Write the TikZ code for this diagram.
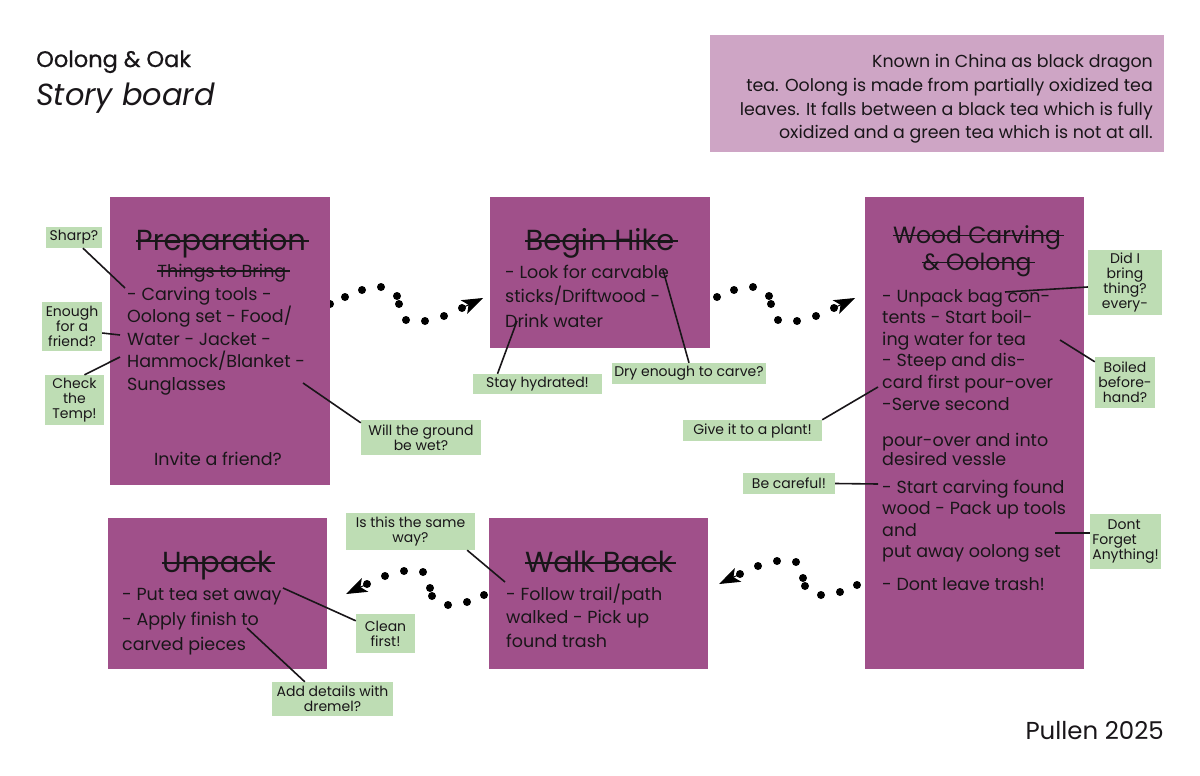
\documentclass[tikz,border=0pt]{standalone}
\usepackage{fontspec}
\setmainfont{Poppins}
\newfontfamily\medfont{Poppins}[FakeBold=0.7]
\usetikzlibrary{arrows.meta,calc}
\definecolor{boxpurple}{RGB}{160,80,138}
\definecolor{infopink}{RGB}{206,165,197}
\definecolor{notegreen}{RGB}{190,221,180}
\definecolor{ink}{RGB}{25,22,25}
\newcommand\bodyfont{\fontsize{17.5}{22.5}\selectfont}
\newcommand\titlefont{\fontsize{29}{32}\selectfont}
\newcommand\notefont{\fontsize{14}{15}\selectfont}
\tikzset{
  board/.style={fill=boxpurple, draw=none, anchor=north west, inner sep=0pt},
  note/.style={fill=notegreen, draw=none, inner sep=0pt, align=center, font=\notefont, text=ink},
  bodytxt/.style={anchor=base west, inner sep=0pt, align=left, font=\bodyfont, text=ink},
  ttl/.style={anchor=base, inner sep=0pt, font=\titlefont, text=ink},
  conn/.style={draw=ink, line width=1.6pt},
  strike/.style={draw=ink, line width=1.3pt},
  wavy/.pic={
    \foreach \px/\py in {0/0,15/-7,32/-14,51/-17,67/-8,69/0,76/16,95/17,114/12,132/4}
      \fill[black] (\px,\py) circle (4pt);
    \draw[black, line width=1pt, -{Stealth[length=21pt,width=15pt,inset=5pt]}] (134,3) -- (153,-6);
  }
}
\begin{document}
\begin{tikzpicture}[x=1pt,y=-1pt]
\useasboundingbox (0,0) rectangle (1200,776);
\fill[white] (0,0) rectangle (1200,776);

% headings
\node[anchor=base west, inner sep=0pt, font=\medfont\fontsize{22.5}{26}\selectfont, text=ink] (ttlA) at (36,67) {Oolong \& Oak};
\node[anchor=base west, inner sep=0pt, font=\fontsize{30.5}{33}\itshape, text=ink] (ttlB) at (36,106) {Story board};
\node[anchor=base east, inner sep=0pt, font=\fontsize{24.5}{27}\selectfont, text=ink] (sig) at (1164,739) {Pullen 2025};

% info box
\node[fill=infopink, anchor=north west, inner sep=0pt, minimum width=454pt, minimum height=117pt] (info) at (710,35) {};
\node[anchor=base east, inner sep=0pt, align=right, font=\fontsize{17.4}{23.5}\selectfont, text=ink] (infotxt) at (1153,138.5)
  {Known in China as black dragon\\tea. Oolong is made from partially oxidized tea\\leaves. It falls between a black tea which is fully\\oxidized and a green tea which is not at all.};

% dotted arrows (drawn first, boxes cover their starts)
\pic at (330,304) {wavy};
\pic at (702,304) {wavy};
\pic[rotate=180] at (872,578) {wavy};
\pic[rotate=180] at (499,588) {wavy};

% boards
\node[board, minimum width=220pt, minimum height=288pt] (prep) at (110,197) {};
\node[board, minimum width=220pt, minimum height=151pt] (hike) at (490,197) {};
\node[board, minimum width=219pt, minimum height=472pt] (wood) at (865,197) {};
\node[board, minimum width=219pt, minimum height=151pt] (walk) at (489,518) {};
\node[board, minimum width=219pt, minimum height=151pt] (unpack) at (108,518) {};

% Preparation
\node[ttl] (prepT) at (221,250) {Preparation};
\node[anchor=base, inner sep=0pt, font=\fontsize{17.5}{20}\selectfont, text=ink] (prepS) at (222,277) {Things to Bring};
\node[bodytxt] (prepB) at (127,390) {- Carving tools -\\Oolong set - Food/\\Water - Jacket -\\Hammock/Blanket -\\Sunglasses};
\node[anchor=base, inner sep=0pt, font=\bodyfont, text=ink] (prepI) at (218,465) {Invite a friend?};

% Begin Hike
\node[ttl] (hikeT) at (600,250) {Begin Hike};
\node[bodytxt, font=\fontsize{17.5}{24.5}\selectfont] (hikeB) at (505,327) {- Look for carvable\\sticks/Driftwood -\\Drink water};

% Wood carving
\node[ttl, font=\fontsize{23.5}{27}\selectfont] (woodT1) at (977,243) {Wood Carving};
\node[ttl, font=\fontsize{23.5}{27}\selectfont] (woodT2) at (977,270) {\& Oolong};
\node[bodytxt, font=\fontsize{17.5}{21.6}\selectfont] (woodB1) at (882,410) {- Unpack bag con-\\tents - Start boil-\\ing water for tea\\- Steep and dis-\\card first pour-over\\-Serve second};
\node[bodytxt, font=\fontsize{17.5}{17}\selectfont] (woodB2) at (882,465) {pour-over and into\\desired vessle};
\node[bodytxt, font=\fontsize{17.5}{21.5}\selectfont] (woodB3) at (882,557.5) {- Start carving found\\wood - Pack up tools\\and\\put away oolong set};
\node[bodytxt] (woodB4) at (882,590) {- Dont leave trash!};

% Walk back
\node[ttl] (walkT) at (599,572) {Walk Back};
\node[bodytxt, font=\fontsize{17.5}{23.5}\selectfont] (walkB) at (506,647) {- Follow trail/path\\walked - Pick up\\found trash};

% Unpack
\node[ttl] (unpT) at (217,572) {Unpack};
\node[bodytxt, font=\fontsize{17.5}{25}\selectfont] (unpB) at (122,650) {- Put tea set away\\- Apply finish to\\carved pieces};

% strike-through lines on the titles
\foreach \t/\h in {prepT/9, hikeT/9, woodT1/7.5, woodT2/7.5, walkT/9, unpT/9, prepS/6}
  \draw[strike] ($(\t.base west)+(0,-\h)$) -- ($(\t.base east)+(3,-\h)$);

% notes
\node[note, minimum width=56pt, minimum height=21pt] (sharp) at (74,237.5) {Sharp?};
\node[note, minimum width=60pt, minimum height=49pt] (enough) at (72,326.5) {Enough\\for a\\friend?};
\node[note, minimum width=59pt, minimum height=50pt] (chk) at (74.5,400) {Check\\the\\Temp!};
\node[note, minimum width=120pt, minimum height=35pt] (wet) at (421,437.5) {Will the ground\\be wet?};
\node[note, minimum width=129pt, minimum height=20pt] (stay) at (537.5,384) {Stay hydrated!};
\node[note, minimum width=154pt, minimum height=21pt] (dry) at (689,373.5) {Dry enough to carve?};
\node[note, minimum width=74pt, minimum height=65pt] (did) at (1125,282.5) {Did I\\bring\\thing?\\every-};
\node[note, minimum width=60pt, minimum height=51pt] (boil) at (1125,382.5) {Boiled\\before-\\hand?};
\node[note, minimum width=139pt, minimum height=21pt] (plant) at (752.5,430.5) {Give it to a plant!};
\node[note, minimum width=92pt, minimum height=21pt] (careful) at (789,483.5) {Be careful!};
\node[note, minimum width=71pt, minimum height=55pt, align=left] (forget) at (1125.5,541.5) {\hspace*{1.1em}Dont\\Forget\\Anything!};
\node[note, minimum width=129pt, minimum height=37pt] (same) at (410.5,531.5) {Is this the same\\way?};
\node[note, minimum width=59pt, minimum height=39pt] (clean) at (385.5,633.5) {Clean\\first!};
\node[note, minimum width=121pt, minimum height=34pt] (dremel) at (332.5,699) {Add details with\\dremel?};

% connector free ends
\coordinate (e1) at (125,288);
\coordinate (e2) at (120,335);
\coordinate (e3) at (120,357);
\coordinate (e4) at (303,383);
\coordinate (e5) at (517,321);
\coordinate (e6) at (663,270);
\coordinate (e7) at (1005,292);
\coordinate (e8) at (1060,340);
\coordinate (e9) at (878,387);
\coordinate (e10) at (878,484);
\coordinate (e11) at (1055,533);
\coordinate (e12) at (505,582);
\coordinate (e13) at (283,588);
\coordinate (e14) at (247,628);

\draw[conn] ($(sharp.south)+(9,0)$) -- (e1);
\draw[conn] ($(enough.east)+(0,6.5)$) -- (e2);
\draw[conn] ($(chk.north)+(10,0)$) -- (e3);
\draw[conn] ($(wet.north west)+(0,3)$) -- (e4);
\draw[conn] ($(stay.north)+(-40,0)$) -- (e5);
\draw[conn] (dry.north) -- (e6);
\draw[conn] ($(did.west)+(0,4.5)$) -- (e7);
\draw[conn] ($(boil.north west)+(0,5)$) -- (e8);
\draw[conn] (plant.north east) -- (e9);
\draw[conn] (careful.east) -- (e10);
\draw[conn] ($(forget.west)+(0,-8.5)$) -- (e11);
\draw[conn] ($(same.south east)+(-8,0)$) -- (e12);
\draw[conn] ($(clean.north west)+(0,7)$) -- (e13);
\draw[conn] ($(dremel.north west)+(33,0)$) -- (e14);
\end{tikzpicture}
\end{document}
